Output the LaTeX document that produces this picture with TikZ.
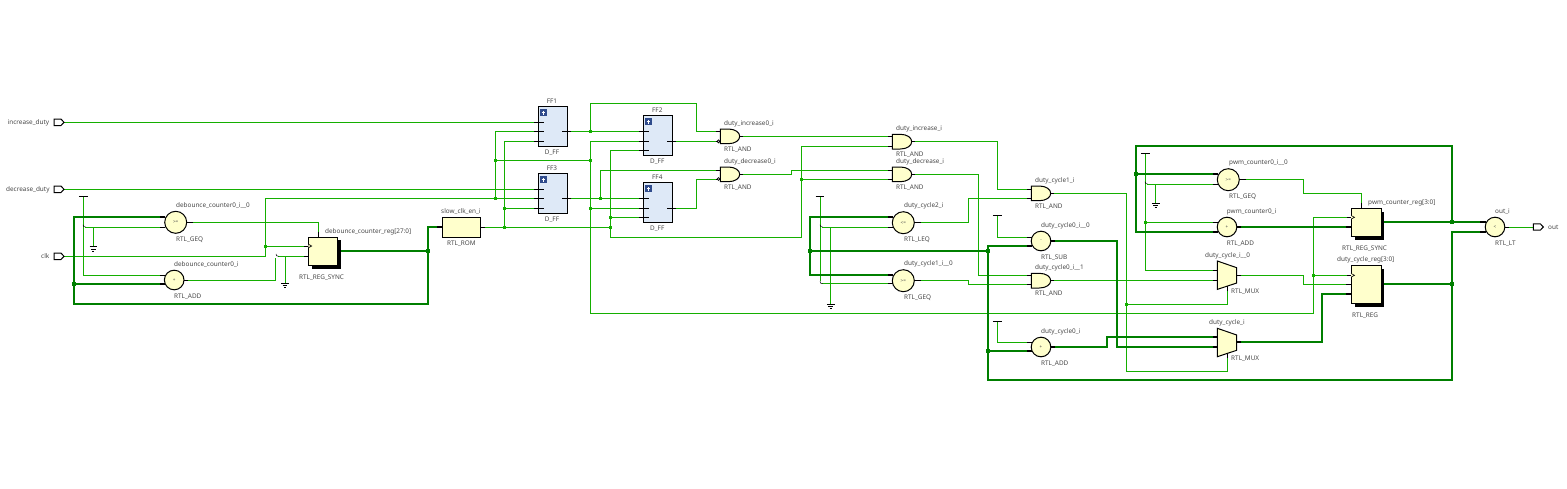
\documentclass[tikz,border=0pt]{standalone}
\usepackage{fontspec}
\setmainfont{Noto Sans}
\usetikzlibrary{backgrounds}
\definecolor{wirec}{HTML}{14AF00}
\definecolor{busc}{HTML}{007F00}
\definecolor{cellc}{HTML}{FFFFCC}
\definecolor{ffc}{HTML}{DEE9F7}
\definecolor{iconc}{HTML}{2F4B8C}
\definecolor{textc}{HTML}{484848}
\tikzset{
  wire/.style={draw=wirec,line width=0.95pt},
  bus/.style={draw=busc,line width=2.4pt},
  stubthin/.style={draw=black,line width=0.95pt},
  stubbus/.style={draw=black,line width=2.4pt},
  hook/.style={draw=black,line width=0.5pt},
  cellbody/.style={draw=black,fill=cellc,line width=1pt},
  cmpcell/.style={circle,cellbody,inner sep=0pt,font=\fontsize{4.6}{4.6}\selectfont,text=textc},
  regcell/.style={rectangle,cellbody,inner sep=0pt},
  ffcell/.style={rectangle,draw=black,fill=ffc,line width=1pt,inner sep=0pt,minimum width=29.4pt,minimum height=40pt},
  shapebox/.style={rectangle,inner sep=0pt},
  lbl/.style={anchor=west,inner sep=0pt,text=textc,text height=4.7pt,text depth=1.3pt,font=\fontsize{6.4}{6.4}\selectfont},
  lblc/.style={lbl,anchor=center},
  jt/.style={rectangle,fill=wirec,inner sep=0pt,minimum size=3pt},
  jb/.style={rectangle,fill=busc,inner sep=0pt,minimum size=4.2pt},
}
\newcommand{\Lbl}[4]{\node[lbl] (#1) at (#2,#3) {#4};}
\newcommand{\LblC}[4]{\node[lblc] (#1) at (#2,#3) {#4};}
\newcommand{\Pin}[5]{\coordinate (#1) at (#2,#3); \draw[#5] (#2,#3) -- (#4,#3);}
\newcommand{\PortBox}[3]{\node[shapebox,minimum width=10pt,minimum height=6.4pt] (#1) at (#2+5,#3) {};
  \draw[black,fill=white,line width=1pt] (#2,#3-3.2) -- (#2+7,#3-3.2) -- (#2+10,#3) -- (#2+7,#3+3.2) -- (#2,#3+3.2) -- cycle;}
\newcommand{\AndG}[3]{\node[shapebox,minimum width=19.4pt,minimum height=14.7pt] (#1) at (#2+9.7,#3+7.35) {};
  \begin{scope}[shift={(#2,#3)}]
  \draw[cellbody] (0,0) -- (8,0) .. controls (15,0) and (19.4,3.5) .. (19.4,7.35) .. controls (19.4,11.2) and (15,14.7) .. (8,14.7) -- (0,14.7) -- cycle;
  \end{scope}}
\newcommand{\MuxG}[3]{\node[shapebox,minimum width=19.4pt,minimum height=28.4pt] (#1) at (#2+9.7,#3+14.2) {};
  \begin{scope}[shift={(#2,#3)}]
  \draw[cellbody] (0,0) -- (19.4,6.7) -- (19.4,22) -- (0,28.4) -- cycle;
  \end{scope}}
\newcommand{\FFicon}[2]{\fill[iconc] (#1,#2) rectangle (#1+6.7,#2+6.7);
  \draw[white,line width=0.8pt] (#1+1.5,#2+3.35) -- (#1+5.2,#2+3.35) (#1+3.35,#2+1.5) -- (#1+3.35,#2+5.2);}
\newcommand{\RegBox}[5]{\fill[black] (#2+3.4,#3+3.4) rectangle (#2+#4+3.4,#3+#5+3.4);
  \node[regcell,minimum width=#4pt,minimum height=#5pt] (#1) at (#2+#4/2,#3+#5/2) {};}
\newcommand{\ClkPin}[3]{\coordinate (#1) at (#2,#3); \draw[stubthin] (#2,#3) -- (#2+7,#3);
  \draw[black,fill=cellc,line width=0.6pt] (#2+4,#3-1.8) -- (#2+7.5,#3) -- (#2+4,#3+1.8);}
\newcommand{\Gnd}[2]{\draw[black,line width=0.8pt] (#1-3.8,#2) -- (#1+3.8,#2) (#1-2.3,#2+2.2) -- (#1+2.3,#2+2.2) (#1-1,#2+4.2) -- (#1+1,#2+4.2);}
\newcommand{\Vcc}[3]{\coordinate (#1) at (#2,#3); \draw[black,line width=0.8pt] (#2-4.4,#3) -- (#2+4.4,#3);}
\newcommand{\Hook}[2]{\draw[hook] (#1-1,#2-2.4) .. controls (#1-1,#2-0.6) and (#1,#2) .. (#1+1.6,#2);}
\newcommand{\Bub}[2]{\draw[black,fill=white,line width=0.8pt] (#1,#2) circle (1.4pt);}
\begin{document}
\begin{tikzpicture}[x=1pt,y=-1pt]
\useasboundingbox (0,0) rectangle (1567,488);
% ---------- cells
\PortBox{pInc}{54}{122.3}
\PortBox{pDec}{54}{189.3}
\PortBox{pClk}{54}{256.3}
\PortBox{pOut}{1533.3}{227}
\Lbl{tInc}{7.5}{122.3}{increase\_duty}
\Lbl{tDec}{6}{189.3}{decrease\_duty}
\Lbl{tClk}{41}{256.3}{clk}
\Lbl{tOut}{1548}{227.5}{out}
% counters
\node[cmpcell,minimum size=22pt] (gA) at (175.7,222.3) {>=};
\node[cmpcell,minimum size=19.6pt] (aA) at (174.2,280) {+};
\Lbl{t1}{176}{205.7}{debounce\_counter0\_i\_\_0}
\Lbl{t2}{176}{239.7}{RTL\_GEQ}
\Lbl{t3}{174}{264.7}{debounce\_counter0\_i}
\Lbl{t4}{174}{296.7}{RTL\_ADD}
\RegBox{rA}{308.3}{237}{29.4}{28.3}
\Lbl{t5}{325}{231.7}{debounce\_counter\_reg[27:0]}
\Lbl{t6}{299}{277.7}{RTL\_REG\_SYNC}
\node[regcell,minimum width=38.4pt,minimum height=20pt] (rom) at (461.5,227.3) {};
\Lbl{t7}{441}{211.7}{slow\_clk\_en\_i}
\Lbl{t8}{447}{243.7}{RTL\_ROM}
% flip-flops
\node[ffcell] (ff1) at (553,126.3) {};
\node[ffcell] (ff3) at (553,193.3) {};
\node[ffcell] (ff2) at (658,135.3) {};
\node[ffcell] (ff4) at (658,202.3) {};
\FFicon{540}{109.3}\FFicon{540}{176.3}\FFicon{645}{118.3}\FFicon{645}{185.3}
\LblC{t9}{552}{101.7}{FF1}
\LblC{t10}{552}{152.3}{D\_FF}
\LblC{t11}{552}{168.3}{FF3}
\LblC{t12}{552}{219.3}{D\_FF}
\LblC{t13}{657.3}{110.7}{FF2}
\LblC{t14}{657.3}{161.3}{D\_FF}
\LblC{t15}{657.3}{177.7}{FF4}
\LblC{t16}{657.3}{228.3}{D\_FF}
% AND gates
\AndG{and1}{720.3}{129}
\AndG{and2}{720.3}{167}
\AndG{and3}{892.3}{134.3}
\AndG{and4}{892.3}{167}
\AndG{and5}{1031.3}{186}
\AndG{and6}{1031.3}{273.3}
\Lbl{t17}{724}{123.7}{duty\_increase0\_i}
\Lbl{t18}{724}{149.3}{RTL\_AND}
\Lbl{t19}{724}{161.3}{duty\_decrease0\_i}
\Lbl{t20}{724}{187.3}{RTL\_AND}
\Lbl{t21}{896}{129}{duty\_increase\_i}
\Lbl{t22}{896}{154.8}{RTL\_AND}
\Lbl{t23}{896}{162}{duty\_decrease\_i}
\Lbl{t24}{896}{187.3}{RTL\_AND}
\Lbl{t25}{1035}{180.7}{duty\_cycle1\_i}
\Lbl{t26}{1035}{206.3}{RTL\_AND}
\Lbl{t27}{1035}{267.7}{duty\_cycle0\_i\_\_1}
\Lbl{t28}{1035}{293.3}{RTL\_AND}
% middle compare / arith
\node[cmpcell,minimum size=22pt] (gB) at (903.3,222.7) {<=};
\node[cmpcell,minimum size=22pt] (gC) at (903.3,280.7) {>=};
\node[cmpcell,minimum size=19.6pt] (sD) at (1041,241) {-};
\node[cmpcell,minimum size=19.6pt] (aD) at (1041,347) {+};
\Lbl{t29}{904}{206}{duty\_cycle2\_i}
\Lbl{t30}{904}{239.7}{RTL\_LEQ}
\Lbl{t31}{904}{263.7}{duty\_cycle1\_i\_\_0}
\Lbl{t32}{904}{297.7}{RTL\_GEQ}
\Lbl{t33}{1041}{225.7}{duty\_cycle0\_i\_\_0}
\Lbl{t34}{1041}{257.3}{RTL\_SUB}
\Lbl{t35}{1041}{331.7}{duty\_cycle0\_i}
\Lbl{t36}{1041}{363.3}{RTL\_ADD}
% right block
\node[cmpcell,minimum size=22pt] (gE) at (1228.3,179.7) {>=};
\node[cmpcell,minimum size=19.6pt] (aE) at (1227,227) {+};
\node[cmpcell,minimum size=19.6pt] (lt) at (1495,227) {<};
\Lbl{t37}{1229}{162.7}{pwm\_counter0\_i\_\_0}
\Lbl{t38}{1229}{196.7}{RTL\_GEQ}
\Lbl{t39}{1226.7}{211.7}{pwm\_counter0\_i}
\Lbl{t40}{1226.7}{243.3}{RTL\_ADD}
\Lbl{t41}{1495}{211.7}{out\_i}
\Lbl{t42}{1495}{243.3}{RTL\_LT}
\MuxG{mx1}{1217.3}{261}
\MuxG{mx2}{1217.3}{328.3}
\Lbl{t43}{1205}{255.7}{duty\_cycle\_i\_\_0}
\Lbl{t44}{1231}{291.7}{RTL\_MUX}
\Lbl{t45}{1209}{322.7}{duty\_cycle\_i}
\Lbl{t46}{1231}{358.7}{RTL\_MUX}
\RegBox{rB}{1351.3}{208.3}{29.7}{28.4}
\RegBox{rC}{1351.3}{265.3}{29.7}{38}
\Lbl{t47}{1368}{202.7}{pwm\_counter\_reg[3:0]}
\Lbl{t48}{1342}{248.7}{RTL\_REG\_SYNC}
\Lbl{t49}{1337}{259.7}{duty\_cycle\_reg[3:0]}
\Lbl{t50}{1352}{315.7}{RTL\_REG}
% ---------- pins
\coordinate (oInc) at (pInc.east); \coordinate (oDec) at (pDec.east); \coordinate (oClk) at (pClk.east); \coordinate (iOut) at (pOut.west);
\Pin{gA1}{160.3}{216.7}{165}{stubbus}
\Pin{gA2}{160.3}{227}{165}{stubthin}
\Pin{gAo}{193}{222.3}{186.7}{stubthin}
\Pin{aA1}{160.3}{275.3}{165}{stubthin}
\Pin{aA2}{160.3}{283.7}{165}{stubbus}
\Pin{aAo}{188}{280}{184}{stubthin}
\ClkPin{rAc}{304.3}{246}
\Pin{rAd}{304.3}{256.3}{308.3}{stubthin}
\coordinate (rAt) at (318.3,231.7); \draw[stubthin] (rAt) -- (318.3,237);
\coordinate (rAo) at (341,250.7);
\Pin{romi}{437}{226.7}{442.3}{stubbus}
\Pin{romo}{485}{227.3}{480.7}{stubthin}
% FF pins
\Pin{f1a}{534}{122.3}{544}{stubthin}\Pin{f1b}{534}{131.3}{544}{stubthin}\Pin{f1c}{534}{141.3}{544}{stubthin}\Pin{f1o}{570.7}{131.3}{562}{stubthin}
\Pin{f3a}{534}{189.3}{544}{stubthin}\Pin{f3b}{534}{198.3}{544}{stubthin}\Pin{f3c}{534}{208.3}{544}{stubthin}\Pin{f3o}{570.7}{198.3}{562}{stubthin}
\Pin{f2a}{639}{131.3}{648.7}{stubthin}\Pin{f2b}{639}{141.3}{648.7}{stubthin}\Pin{f2c}{639}{150.3}{648.7}{stubthin}\Pin{f2o}{675.7}{141.3}{667}{stubthin}
\Pin{f4a}{639}{198.3}{648.7}{stubthin}\Pin{f4b}{639}{208.3}{648.7}{stubthin}\Pin{f4c}{639}{217.3}{648.7}{stubthin}\Pin{f4o}{675.7}{208.3}{667}{stubthin}
% AND pins
\Pin{a1a}{716}{131.3}{720.3}{stubthin}\Pin{a1b}{716}{141.3}{720.3}{stubthin}\Pin{a1o}{743}{136.3}{739.7}{stubthin}
\Pin{a2a}{716}{170.3}{720.3}{stubthin}\Pin{a2b}{716}{179}{720.3}{stubthin}\Pin{a2o}{743}{174.3}{739.7}{stubthin}
\Bub{718.5}{141.3}\Bub{718.5}{179}
\Pin{a3a}{888.3}{136.3}{892.3}{stubthin}\Pin{a3b}{888.3}{146.3}{892.3}{stubthin}\Pin{a3o}{915}{141.3}{911.7}{stubthin}
\Pin{a4a}{888.3}{170.3}{892.3}{stubthin}\Pin{a4b}{888.3}{179.3}{892.3}{stubthin}\Pin{a4o}{915}{174.3}{911.7}{stubthin}
\Pin{a5a}{1027}{189.3}{1031.3}{stubthin}\Pin{a5b}{1027}{198.7}{1031.3}{stubthin}\Pin{a5o}{1054}{193}{1050.7}{stubthin}
\Pin{a6a}{1027}{275.3}{1031.3}{stubthin}\Pin{a6b}{1027}{284.7}{1031.3}{stubthin}\Pin{a6o}{1054}{280.3}{1050.7}{stubthin}
% compare pins
\Pin{gB1}{888}{217}{892.5}{stubbus}\Pin{gB2}{888}{227}{892.5}{stubthin}\Pin{gBo}{920.5}{222.7}{914.3}{stubthin}
\Pin{gC1}{888}{274.7}{892.5}{stubbus}\Pin{gC2}{888}{283.7}{892.5}{stubthin}\Pin{gCo}{920.5}{280.7}{914.3}{stubthin}
\Pin{sD1}{1027}{237.3}{1031.5}{stubthin}\Pin{sD2}{1027}{246}{1031.5}{stubbus}\Pin{sDo}{1055}{240.9}{1050.5}{stubbus}
\Pin{aD1}{1027}{342.3}{1031.5}{stubthin}\Pin{aD2}{1027}{350.7}{1031.5}{stubbus}\Pin{aDo}{1055}{346.8}{1050.5}{stubbus}
\Pin{gE1}{1212.5}{173.7}{1217.5}{stubbus}\Pin{gE2}{1212.5}{184}{1217.5}{stubthin}\Pin{gEo}{1246}{179.7}{1239.3}{stubthin}
\Pin{aE1}{1212.5}{222.3}{1217.5}{stubthin}\Pin{aE2}{1212.5}{231.7}{1217.5}{stubbus}\Pin{aEo}{1241}{227}{1236.5}{stubbus}
\Pin{lt1}{1480}{221.7}{1485.5}{stubbus}\Pin{lt2}{1480}{231.7}{1485.5}{stubbus}\Pin{lto}{1509}{227}{1504.5}{stubthin}
% mux pins
\Pin{m1a}{1212.5}{270.3}{1217.3}{stubthin}\Pin{m1b}{1212.5}{280.3}{1217.3}{stubthin}\Pin{m1o}{1241}{275.3}{1236.7}{stubthin}
\Pin{m2a}{1212.5}{336.7}{1217.3}{stubbus}\Pin{m2b}{1212.5}{346.7}{1217.3}{stubbus}\Pin{m2o}{1241}{341.7}{1236.7}{stubbus}
\coordinate (m1s) at (1227.7,291); \draw[stubthin] (m1s) -- (1227.7,286);
\coordinate (m2s) at (1227.7,358); \draw[stubthin] (m2s) -- (1227.7,353);
% reg pins
\ClkPin{rBc}{1347}{217.3}
\Pin{rBd}{1345.5}{227}{1351.3}{stubbus}
\coordinate (rBt) at (1361.7,202.7); \draw[stubthin] (rBt) -- (1361.7,208.3);
\coordinate (rBo) at (1384.4,221.7);
\ClkPin{rCc}{1347}{275.3}
\Pin{rCa}{1346}{284.3}{1351.3}{stubthin}
\Pin{rCb}{1345.5}{293.7}{1351.3}{stubbus}
\coordinate (rCo) at (1384.4,283.7);
% VCC and ground
\Vcc{vA}{83.3}{196.7}\Gnd{93.3}{246.7}\coordinate (gnA) at (93.3,246.7);
\Gnd{285}{283.3}\coordinate (gnR) at (285,283.3);
\Vcc{vB}{820}{196.3}\Gnd{830.7}{304.3}\coordinate (gnB) at (830.7,304.3);
\Vcc{vC}{997.3}{215.3}
\Vcc{vD}{997.3}{321.3}
\Vcc{vE}{1145.3}{153.7}\Gnd{1155.7}{203.3}\coordinate (gnE) at (1155.7,203.3);
\Hook{84}{227}
\Hook{277}{256.3}
\Hook{821}{227}\Hook{821}{283.7}
\Hook{1146}{184}
% junctions
\node[jt] (j1) at (265.3,246) {};
\node[jt] (j2) at (495.3,198.3) {};
\node[jt] (j3) at (495.3,160.3) {};
\node[jt] (j4) at (590.3,160.3) {};
\node[jt] (j5) at (590.3,131.3) {};
\node[jt] (j6) at (504.3,208.3) {};
\node[jt] (j7) at (504.3,227.3) {};
\node[jt] (j8) at (600.3,198.3) {};
\node[jt] (j9) at (590.3,208.3) {};
\node[jt] (j10) at (610.3,227.3) {};
\node[jt] (j11) at (610.3,217.3) {};
\node[jt] (j12) at (801.3,179.3) {};
\node[jt] (j13) at (1126.3,304.3) {};
\node[jt] (j14) at (1145.3,222.3) {};
\node[jt] (j15) at (1313.3,275.3) {};
\node[jb] (b1) at (428,250.7) {};
\node[jb] (b2) at (73.7,283.7) {};
\node[jb] (b3) at (810,251) {};
\node[jb] (b4) at (988,251) {};
\node[jb] (b5) at (988,350.7) {};
\node[jb] (b6) at (1135.7,173.7) {};
\node[jb] (b7) at (1452,221.7) {};
\node[jb] (b8) at (1452,283.7) {};
% ---------- wires
\begin{scope}[on background layer]
\fill[white] (0,0) rectangle (1567,488);
% single-bit
\draw[wire] (oInc) -- (f1a);
\draw[wire] (oDec) -- (f3a);
\draw[wire] (oClk) -- (265.3,256.3) -- (265.3,198.3) -- (f3b);
\draw[wire] (j1.center) -- (rAc);
\draw[wire] (j2.center) -- (495.3,131.3) -- (f1b);
\draw[wire] (j3.center) -- (j4.center);
\draw[wire] (vA) -- (83.3,275.3) -- (aA1);
\draw[wire] (85,227) -- (gA2);
\draw[wire] (93.3,227) -- (gnA);
\draw[wire] (gAo) -- (318.3,222.3) -- (rAt);
\draw[wire] (aAo) -- (275.7,280) -- (275.7,258);
\draw[wire] (278,256.3) -- (rAd);
\draw[wire] (285,256.3) -- (gnR);
\draw[wire] (romo) -- (j10.center);
\draw[wire] (f1c) -- (504.3,141.3) -- (j7.center);
\draw[wire] (j6.center) -- (f3c);
\draw[wire] (f1o) -- (f2a);
\draw[wire] (j5.center) -- (590.3,103.3) -- (696.3,103.3) -- (696.3,131.3) -- (a1a);
\draw[wire] (f2b) -- (590.3,141.3) -- (590.3,313.3) -- (1313.3,313.3) -- (1313.3,217.3) -- (rBc);
\draw[wire] (j15.center) -- (rCc);
\draw[wire] (j9.center) -- (f4b);
\draw[wire] (f2c) -- (610.3,150.3) -- (610.3,237) -- (801.3,237) -- (801.3,146.3) -- (a3b);
\draw[wire] (j11.center) -- (f4c);
\draw[wire] (f3o) -- (f4a);
\draw[wire] (j8.center) -- (600.3,170.3) -- (a2a);
\draw[wire] (f2o) -- (a1b);
\draw[wire] (f4o) -- (696.3,208.3) -- (696.3,179) -- (a2b);
\draw[wire] (a1o) -- (a3a);
\draw[wire] (a2o) -- (791.3,174.3) -- (791.3,170.3) -- (a4a);
\draw[wire] (j12.center) -- (a4b);
\draw[wire] (a3o) -- (997.7,141.3) -- (997.7,189.3) -- (a5a);
\draw[wire] (a4o) -- (978.7,174.3) -- (978.7,275.3) -- (a6a);
\draw[wire] (a5o) -- (1126.3,193) -- (1126.3,371) -- (1227.7,371) -- (m2s);
\draw[wire] (j13.center) -- (1227.7,304.3) -- (m1s);
\draw[wire] (a6o) -- (m1b);
\draw[wire] (vB) -- (820,281);
\draw[wire] (822,227) -- (gB2);
\draw[wire] (822,283.7) -- (gC2);
\draw[wire] (830.7,227) -- (gnB);
\draw[wire] (gBo) -- (968.3,222.7) -- (968.3,198.7) -- (a5b);
\draw[wire] (gCo) -- (968.3,280.7) -- (968.3,284.7) -- (a6b);
\draw[wire] (vC) -- (997.3,237.3) -- (sD1);
\draw[wire] (vD) -- (997.3,342.3) -- (aD1);
\draw[wire] (vE) -- (1145.3,270.3) -- (m1a);
\draw[wire] (j14.center) -- (aE1);
\draw[wire] (1147,184) -- (gE2);
\draw[wire] (1155.7,184) -- (gnE);
\draw[wire] (gEo) -- (1303.3,179.7) -- (1303.3,193.3) -- (1361.7,193.3) -- (rBt);
\draw[wire] (m1o) -- (1303.3,275.3) -- (1303.3,284.3) -- (rCa);
\draw[wire] (lto) -- (iOut);
% buses
\draw[bus] (rAo) -- (b1.center);
\draw[bus] (romi) -- (428,226.7) -- (428,303.7) -- (73.7,303.7) -- (73.7,216.7) -- (gA1);
\draw[bus] (b2.center) -- (aA2);
\draw[bus] (gB1) -- (810,217) -- (810,274.7) -- (gC1);
\draw[bus] (b3.center) -- (b4.center);
\draw[bus] (sD2) -- (988,246) -- (988,379.7) -- (1452,379.7) -- (1452,231.7) -- (lt2);
\draw[bus] (b5.center) -- (aD2);
\draw[bus] (sDo) -- (1116.7,240.9) -- (1116.7,346.7) -- (m2b);
\draw[bus] (aDo) -- (1106.7,346.8) -- (1106.7,336.7) -- (m2a);
\draw[bus] (m2o) -- (1322,341.7) -- (1322,293.7) -- (rCb);
\draw[bus] (gE1) -- (1135.7,173.7) -- (1135.7,145.7) -- (1452,145.7) -- (1452,221.7);
\draw[bus] (b6.center) -- (1135.7,231.7) -- (aE2);
\draw[bus] (aEo) -- (rBd);
\draw[bus] (rBo) -- (lt1);
\draw[bus] (rCo) -- (b8.center);
\end{scope}
\end{tikzpicture}
\end{document}
